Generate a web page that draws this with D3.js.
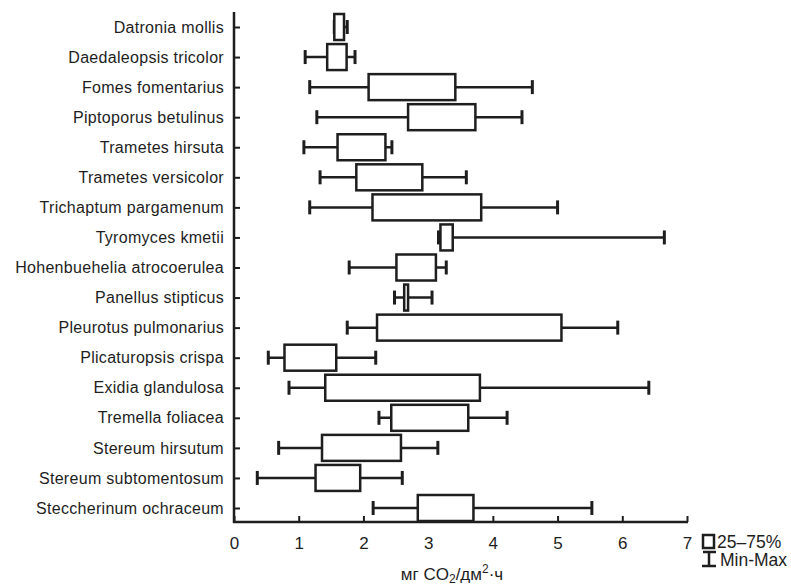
<!DOCTYPE html>
<html>
<head>
<meta charset="utf-8">
<script src="https://cdn.jsdelivr.net/npm/d3@7"></script>
<style>
  body { margin: 0; background: #fff; }
  svg text { font-family: "Liberation Sans", Arial, sans-serif; fill: #1e1e1e; }
</style>
</head>
<body>
<div id="wrapper"></div>
<script>
const species = [
  "Datronia mollis", "Daedaleopsis tricolor", "Fomes fomentarius", "Piptoporus betulinus",
  "Trametes hirsuta", "Trametes versicolor", "Trichaptum pargamenum", "Tyromyces kmetii",
  "Hohenbuehelia atrocoerulea", "Panellus stipticus", "Pleurotus pulmonarius",
  "Plicaturopsis crispa", "Exidia glandulosa", "Tremella foliacea", "Stereum hirsutum",
  "Stereum subtomentosum", "Steccherinum ochraceum"
]
const minValues = [1.55, 1.10, 1.17, 1.28, 1.08, 1.33, 1.17, 3.16, 1.78, 2.48, 1.75, 0.53, 0.85, 2.24, 0.69, 0.36, 2.15]
const q1Values  = [1.55, 1.44, 2.08, 2.69, 1.60, 1.89, 2.14, 3.19, 2.51, 2.63, 2.21, 0.78, 1.41, 2.43, 1.36, 1.26, 2.84]
const q3Values  = [1.70, 1.74, 3.42, 3.73, 2.34, 2.91, 3.82, 3.38, 3.12, 2.69, 5.06, 1.58, 3.80, 3.62, 2.58, 1.95, 3.70]
const maxValues = [1.75, 1.87, 4.61, 4.45, 2.44, 3.59, 5.00, 6.65, 3.28, 3.06, 5.93, 2.19, 6.41, 4.22, 3.15, 2.60, 5.53]
const xTicks = [0, 1, 2, 3, 4, 5, 6, 7]

const data = species.map((name, i) => ({
  name, min: minValues[i], q1: q1Values[i], q3: q3Values[i], max: maxValues[i]
}))

const width = 791
const height = 585
const ink = "#1e1e1e"

const svg = d3.select("#wrapper").append("svg")
  .attr("width", width)
  .attr("height", height)

const xScale = d3.scaleLinear().domain([0, 7]).range([234, 687])
const yScale = d3.scalePoint().domain(species).range([27, 508])
const axisY = 522
const boxH = 26
const capH = 14

// axes
const xAxis = svg.append("g")
  .attr("transform", `translate(0,${axisY})`)
  .call(d3.axisBottom(xScale).tickValues(xTicks).tickFormat(d3.format("d"))
    .tickSizeInner(-6).tickSizeOuter(0).tickPadding(15))
xAxis.select(".domain").remove()
xAxis.selectAll(".tick line").attr("stroke", ink).attr("stroke-width", 2)
xAxis.selectAll(".tick text").attr("font-size", 17)

const yAxis = svg.append("g")
  .attr("transform", `translate(${xScale(0)},0)`)
  .call(d3.axisLeft(yScale).tickSizeInner(-6).tickSizeOuter(0).tickPadding(10))
yAxis.select(".domain").remove()
yAxis.selectAll(".tick line").attr("stroke", ink).attr("stroke-width", 2)
yAxis.selectAll(".tick text").attr("font-size", 16).attr("letter-spacing", 0.3)

svg.append("line")
  .attr("x1", xScale(0)).attr("x2", xScale(0))
  .attr("y1", 12).attr("y2", axisY + 1)
  .attr("stroke", ink).attr("stroke-width", 2.5)
svg.append("line")
  .attr("x1", xScale(0) - 1).attr("x2", xScale(7) + 1)
  .attr("y1", axisY).attr("y2", axisY)
  .attr("stroke", ink).attr("stroke-width", 2.5)

// boxes
const rows = svg.selectAll(".row")
  .data(data)
  .enter().append("g")
    .attr("class", "row")
    .attr("transform", d => `translate(0,${yScale(d.name)})`)

rows.append("line")
  .attr("x1", d => xScale(d.min)).attr("x2", d => xScale(d.max))
  .attr("stroke", ink).attr("stroke-width", 2.5)
rows.append("line")
  .attr("x1", d => xScale(d.min)).attr("x2", d => xScale(d.min))
  .attr("y1", -capH / 2).attr("y2", capH / 2)
  .attr("stroke", ink).attr("stroke-width", 3)
rows.append("line")
  .attr("x1", d => xScale(d.max)).attr("x2", d => xScale(d.max))
  .attr("y1", -capH / 2).attr("y2", capH / 2)
  .attr("stroke", ink).attr("stroke-width", 3)
rows.append("rect")
  .attr("x", d => xScale(d.q1))
  .attr("width", d => xScale(d.q3) - xScale(d.q1))
  .attr("y", -boxH / 2)
  .attr("height", boxH)
  .attr("fill", "#fff")
  .attr("stroke", ink).attr("stroke-width", 2.5)

// axis title
const title = svg.append("text")
  .attr("x", 452).attr("y", 580)
  .attr("text-anchor", "middle")
  .attr("font-size", 17)
title.append("tspan").text("мг CO")
title.append("tspan").attr("font-size", 12).attr("dy", 3).text("2")
title.append("tspan").attr("dy", -3).text("/дм")
title.append("tspan").attr("font-size", 12).attr("dy", -7).text("2")
title.append("tspan").attr("dy", 7).text("·ч")

// legend
svg.append("rect")
  .attr("x", 703).attr("y", 535).attr("width", 11).attr("height", 13)
  .attr("fill", "#fff").attr("stroke", ink).attr("stroke-width", 2.5)
svg.append("line")
  .attr("x1", 709).attr("x2", 709).attr("y1", 552).attr("y2", 566)
  .attr("stroke", ink).attr("stroke-width", 2.5)
svg.append("line")
  .attr("x1", 703).attr("x2", 716).attr("y1", 552).attr("y2", 552)
  .attr("stroke", ink).attr("stroke-width", 2.5)
svg.append("line")
  .attr("x1", 702).attr("x2", 716).attr("y1", 566).attr("y2", 566)
  .attr("stroke", ink).attr("stroke-width", 2.5)
svg.append("text")
  .attr("x", 717).attr("y", 548).attr("font-size", 17.5)
  .text("25–75%")
svg.append("text")
  .attr("x", 720).attr("y", 566).attr("font-size", 17.5)
  .text("Min-Max")
</script>
</body>
</html>
